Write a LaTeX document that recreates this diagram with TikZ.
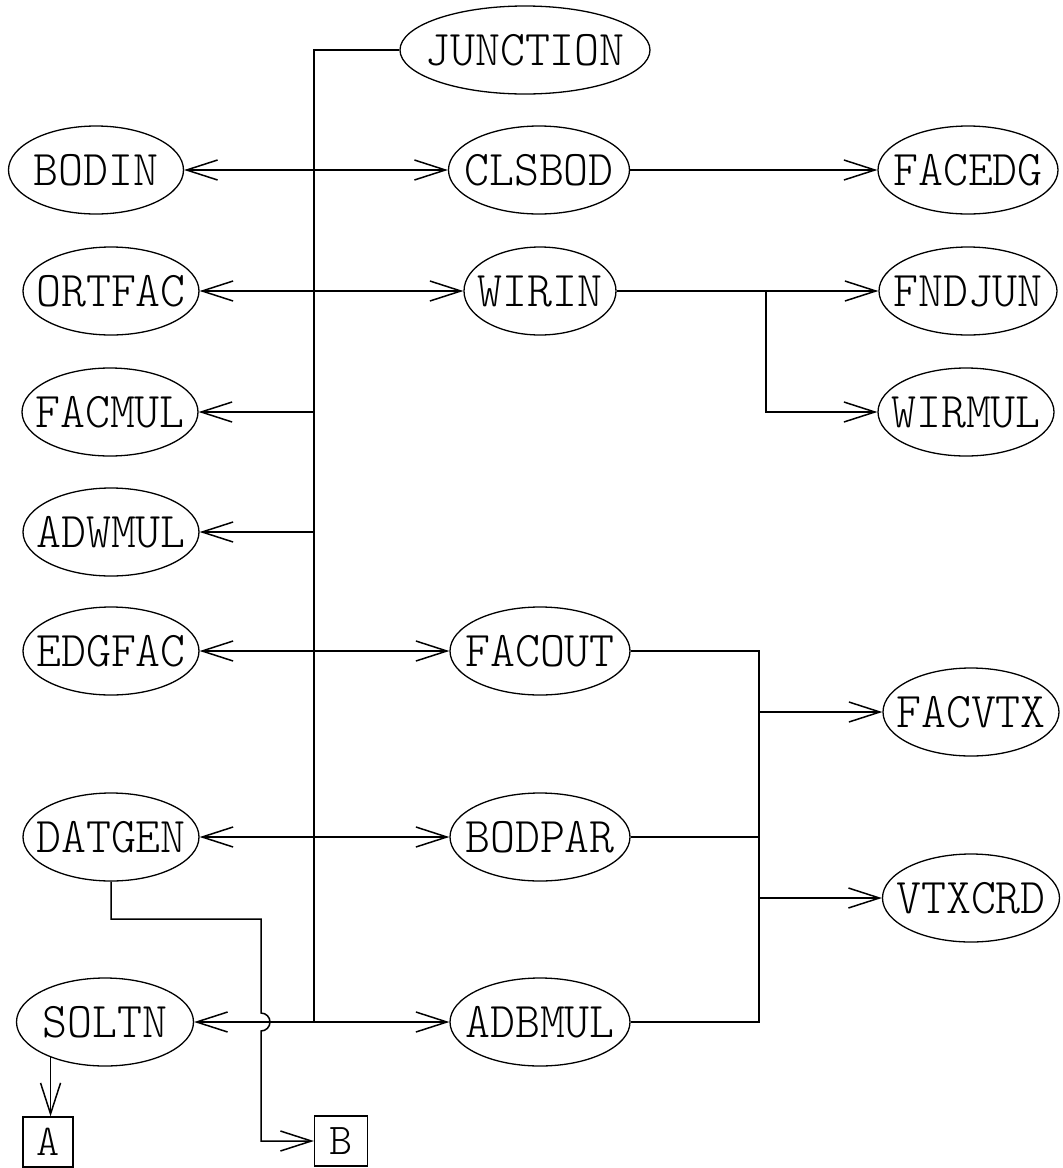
\documentclass[tikz,border=0pt]{standalone}
\usepackage{fontspec}
\usepackage{graphicx}
\usetikzlibrary{shapes.geometric,arrows.meta}
% light typewriter face for all labels
\newfontfamily\lightmono{lmmonolt10-regular.otf}
% centre a label inside a fixed-size ellipse without letting it widen the shape
\newcommand\ctext[1]{\smash{\makebox[0pt]{\raisebox{-.5\height}{\scalebox{0.95}[1]{#1}}}}}
\begin{document}
\begin{tikzpicture}[x=1pt,y=-1pt,line width=1.5pt,
  >={Straight Barb[length=31pt,width=20pt]},
  proc/.style={ellipse,draw,line width=1.3pt,inner sep=0pt,minimum height=88pt,
    font=\fontsize{50}{50}\selectfont\lightmono},
  term/.style={rectangle,draw,line width=1.3pt,inner sep=0pt,minimum width=50pt,
    minimum height=50pt,font=\fontsize{44}{44}\selectfont\lightmono}]
\useasboundingbox (0,0) rectangle (1063,1168);

% routines
\node[proc,minimum width=250pt] (junction) at (525,50) {\ctext{JUNCTION}};
\node[proc,minimum width=175pt] (bodin)  at (96,170)  {\ctext{BODIN}};
\node[proc,minimum width=181pt] (clsbod) at (539,170) {\ctext{CLSBOD}};
\node[proc,minimum width=180pt] (facedg) at (968,170) {\ctext{FACEDG}};
\node[proc,minimum width=176pt] (ortfac) at (111,291) {\ctext{ORTFAC}};
\node[proc,minimum width=152pt] (wirin)  at (540,291) {\ctext{WIRIN}};
\node[proc,minimum width=178pt] (fndjun) at (968,291) {\ctext{FNDJUN}};
\node[proc,minimum width=176pt] (facmul) at (110,412) {\ctext{FACMUL}};
\node[proc,minimum width=176pt] (wirmul) at (966,412) {\ctext{WIRMUL}};
\node[proc,minimum width=176pt] (adwmul) at (111,532) {\ctext{ADWMUL}};
\node[proc,minimum width=176pt] (edgfac) at (111,651) {\ctext{EDGFAC}};
\node[proc,minimum width=180pt] (facout) at (540,651) {\ctext{FACOUT}};
\node[proc,minimum width=176pt] (facvtx) at (971,712) {\ctext{FACVTX}};
\node[proc,minimum width=176pt] (datgen) at (111,837) {\ctext{DATGEN}};
\node[proc,minimum width=180pt] (bodpar) at (540,837) {\ctext{BODPAR}};
\node[proc,minimum width=177pt] (vtxcrd) at (971,898) {\ctext{VTXCRD}};
\node[proc,minimum width=177pt] (soltn)  at (105,1022) {\ctext{SOLTN}};
\node[proc,minimum width=180pt] (adbmul) at (540,1022) {\ctext{ADBMUL}};

% off-page connectors
\node[term] (a) at (48,1142) {A};
\node[term,minimum width=53pt] (b) at (341,1141) {B};

% bus points
\coordinate (busB) at (314,1022);
\coordinate (wbr)  at (766,291);
\coordinate (rbus) at (759,1022);

% main bus from JUNCTION
\draw (junction.west) -| (busB);
\draw[<->] (bodin) -- (clsbod);
\draw[->] (clsbod) -- (facedg);
\draw[<->] (ortfac) -- (wirin);
\draw[->] (wirin) -- (fndjun);
\draw[->] (wbr) |- (wirmul);
\draw[->] (facmul.east -| busB) -- (facmul.east);
\draw[->] (adwmul.east -| busB) -- (adwmul.east);
\draw[<->] (edgfac) -- (facout);
\draw[<->] (datgen) -- (bodpar);
\draw[<->] (soltn) -- (adbmul);

% output collector on the right
\draw (facout) -| (rbus) -- (adbmul);
\draw (bodpar) -- (bodpar -| rbus);
\draw[->] (facvtx -| rbus) -- (facvtx);
\draw[->] (vtxcrd -| rbus) -- (vtxcrd);

% DATGEN to connector B, hopping over the SOLTN line
\draw[->] (datgen.south) |- (261,919) -- (261,1013)
  arc[start angle=-90,end angle=90,radius=9] -- (261,1141) -- (b);

% SOLTN to connector A
\draw[->] (soltn.213) -- (soltn.213 |- a.north);
\end{tikzpicture}
\end{document}
